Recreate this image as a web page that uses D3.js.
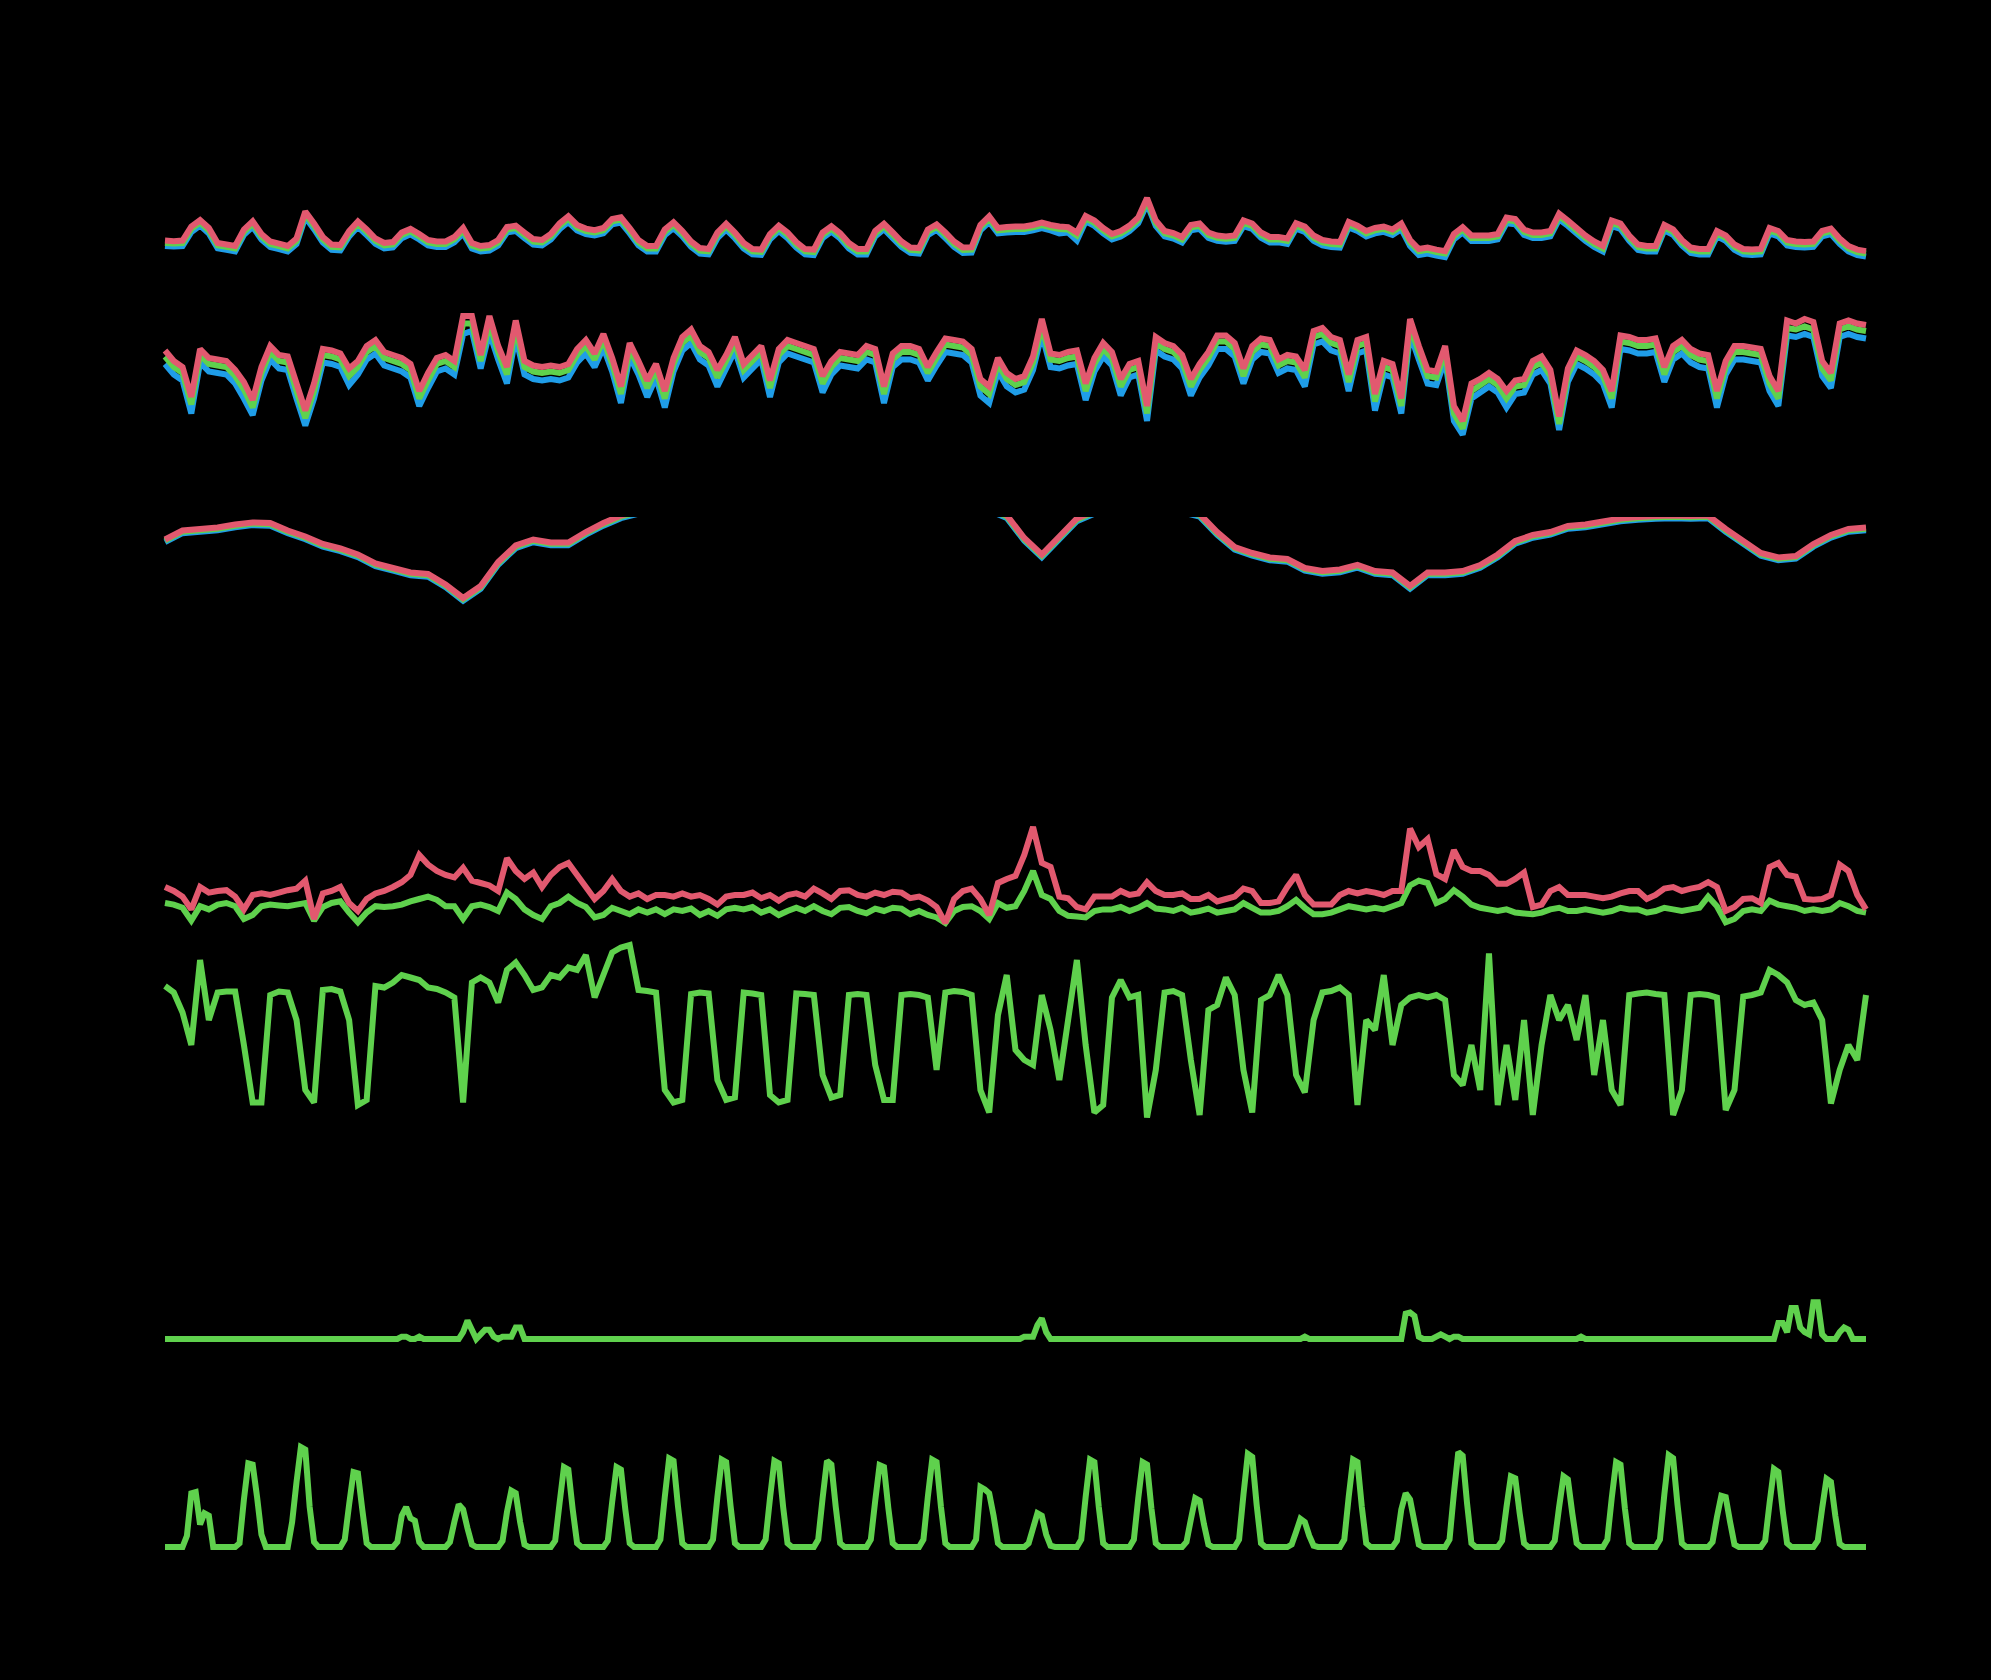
<!DOCTYPE html>
<html>
<head>
<meta charset="utf-8">
<script src="https://cdn.jsdelivr.net/npm/d3@7"></script>
<style>
  html, body { margin: 0; padding: 0; background: #000; }
  svg { display: block; }
</style>
</head>
<body>
<div id="chart"></div>
<script>
// Weather station record, about 32 days.
// 4-hourly series: 6 values per day (one line per day), last line = day 32.
const tempRed = [
  9.8, 9.6, 9.8, 14.5, 16.6, 14.0,
  9.0, 8.5, 8.0, 13.5, 16.2, 12.0,
  9.5, 8.8, 8.0, 10.5, 19.5, 15.5,
  11.0, 8.5, 8.3, 13.0, 16.2, 13.5,
  10.5, 9.0, 9.3, 12.5, 13.7, 12.0,
  10.0, 9.5, 9.5, 11.0, 14.0, 9.0,
  8.0, 8.3, 10.0, 14.3, 14.8, 12.5,
  10.3, 10.0, 12.0, 15.5, 17.9, 15.0,
  13.8, 13.3, 14.0, 17.0, 17.6, 14.0,
  10.0, 8.0, 8.0, 13.5, 15.9, 13.0,
  9.5, 7.3, 7.0, 12.5, 15.4, 12.5,
  9.0, 7.0, 6.8, 12.0, 14.8, 12.5,
  9.3, 7.0, 6.8, 12.5, 14.6, 12.3,
  9.0, 7.0, 7.0, 13.0, 15.4, 12.5,
  9.5, 7.5, 7.3, 13.5, 15.2, 12.5,
  9.5, 7.5, 7.6, 15.0, 17.9, 14.0,
  14.3, 14.5, 14.5, 15.0, 15.8, 15.0,
  14.5, 14.3, 12.5, 18.0, 16.5, 14.0,
  12.0, 13.0, 14.8, 17.5, 24.0, 16.5,
  13.0, 12.3, 11.0, 15.0, 15.5, 12.5,
  11.5, 11.2, 11.5, 16.5, 15.5, 12.5,
  11.0, 11.0, 10.5, 15.6, 14.5, 11.5,
  10.0, 9.5, 9.3, 16.0, 14.8, 13.0,
  14.0, 14.5, 13.5, 15.5, 10.0, 7.0,
  7.5, 6.8, 6.3, 12.0, 14.3, 11.5,
  11.5, 11.5, 12.0, 17.5, 17.0, 13.5,
  12.5, 12.5, 13.0, 18.8, 16.5, 14.0,
  11.5, 9.5, 8.0, 16.5, 15.5, 11.5,
  8.5, 8.0, 8.0, 15.0, 13.5, 10.0,
  7.5, 7.0, 7.0, 13.0, 11.5, 8.5,
  7.0, 6.8, 7.0, 14.0, 13.0, 10.0,
  9.5, 9.3, 9.5, 13.0, 13.8, 10.5,
  8.0, 6.8, 6.3
];
const tempGreen = [
  9.0, 8.8, 9.0, 13.7, 15.8, 13.2,
  8.2, 7.7, 7.2, 12.7, 15.4, 11.2,
  8.7, 8.0, 7.2, 9.7, 18.7, 14.7,
  10.2, 7.7, 7.5, 12.2, 15.4, 12.7,
  9.7, 8.2, 8.5, 11.7, 12.9, 11.2,
  9.2, 8.7, 8.7, 10.2, 13.2, 8.2,
  7.2, 7.5, 9.2, 13.5, 14.0, 11.7,
  9.5, 9.2, 11.2, 14.7, 17.1, 14.2,
  13.0, 12.5, 13.2, 16.2, 16.8, 13.2,
  9.2, 7.2, 7.2, 12.7, 15.1, 12.2,
  8.7, 6.5, 6.2, 11.7, 14.6, 11.7,
  8.2, 6.2, 6.0, 11.2, 14.0, 11.7,
  8.5, 6.2, 6.0, 11.7, 13.8, 11.5,
  8.2, 6.2, 6.2, 12.2, 14.6, 11.7,
  8.7, 6.7, 6.5, 12.7, 14.4, 11.7,
  8.7, 6.7, 6.8, 14.2, 17.1, 13.2,
  13.5, 13.7, 13.7, 14.2, 15.0, 14.2,
  13.7, 13.5, 11.5, 17.2, 15.7, 13.2,
  11.2, 12.2, 14.0, 16.7, 23.0, 15.7,
  12.2, 11.5, 10.2, 14.2, 14.7, 11.7,
  10.7, 10.4, 10.7, 15.7, 14.7, 11.7,
  10.2, 10.2, 9.7, 14.8, 13.7, 10.7,
  9.2, 8.7, 8.5, 15.2, 14.0, 12.2,
  13.2, 13.7, 12.7, 14.7, 9.2, 6.2,
  6.7, 6.0, 5.5, 11.2, 13.5, 10.7,
  10.7, 10.7, 11.2, 16.7, 16.2, 12.7,
  11.7, 11.7, 12.2, 18.0, 15.7, 13.2,
  10.7, 8.7, 7.2, 15.7, 14.7, 10.7,
  7.7, 7.2, 7.2, 14.2, 12.7, 9.2,
  6.7, 6.2, 6.2, 12.2, 10.7, 7.7,
  6.2, 6.0, 6.2, 13.2, 12.2, 9.2,
  8.7, 8.5, 8.7, 12.2, 13.0, 9.7,
  7.2, 6.0, 5.5
];
const tempBlue = [
  8.0, 7.8, 8.0, 12.6, 14.8, 12.2,
  7.2, 6.7, 6.2, 11.7, 14.4, 10.2,
  7.7, 7.0, 6.2, 8.7, 17.6, 13.6,
  9.2, 6.7, 6.5, 11.2, 14.4, 11.6,
  8.7, 7.2, 7.5, 10.6, 11.9, 10.2,
  8.2, 7.7, 7.7, 9.2, 12.2, 7.2,
  6.2, 6.5, 8.2, 12.5, 13.0, 10.6,
  8.5, 8.2, 10.2, 13.6, 16.0, 13.2,
  12.0, 11.5, 12.2, 15.2, 15.8, 12.2,
  8.2, 6.2, 6.2, 11.6, 14.0, 11.2,
  7.7, 5.5, 5.2, 10.6, 13.5, 10.6,
  7.2, 5.2, 5.0, 10.2, 13.0, 10.6,
  7.5, 5.2, 5.0, 10.6, 12.8, 10.5,
  7.2, 5.2, 5.2, 11.2, 13.6, 10.6,
  7.7, 5.7, 5.5, 11.6, 13.4, 10.6,
  7.7, 5.7, 5.8, 13.2, 16.0, 12.2,
  12.5, 12.7, 12.7, 13.2, 14.0, 13.2,
  12.2, 12.5, 9.8, 16.2, 14.7, 12.2,
  10.2, 11.2, 13.0, 15.6, 22.0, 14.7,
  11.2, 10.5, 9.2, 13.2, 13.7, 10.7,
  9.7, 9.4, 9.7, 14.6, 13.7, 10.7,
  9.2, 9.2, 8.7, 13.8, 12.7, 9.7,
  8.2, 7.7, 7.5, 14.2, 13.0, 11.2,
  12.2, 12.7, 11.7, 13.6, 8.0, 5.0,
  5.5, 4.8, 4.3, 10.2, 12.5, 9.7,
  9.7, 9.7, 10.2, 15.6, 15.2, 11.7,
  10.7, 10.7, 11.2, 16.9, 14.7, 12.2,
  9.7, 7.7, 6.2, 14.6, 13.7, 9.7,
  6.7, 6.2, 6.2, 13.2, 11.7, 8.2,
  5.7, 5.2, 5.2, 11.2, 9.7, 6.7,
  5.2, 5.0, 5.2, 12.2, 11.2, 8.2,
  7.7, 7.5, 7.7, 11.2, 12.0, 8.7,
  6.2, 5.0, 4.5
];

const humRed = [
  77, 70, 66, 46, 78, 72,
  71, 70, 64, 56, 44, 66,
  80, 74, 73, 55, 37, 55,
  78, 77, 75, 65, 70, 80,
  84, 76, 74, 72, 68, 50,
  62, 72, 74, 70, 100, 100,
  74, 100, 80, 66, 97, 70,
  67, 66, 67, 66, 68, 78,
  84, 75, 88, 72, 53, 82,
  70, 57, 68, 50, 72, 86,
  91, 80, 76, 64, 74, 86,
  68, 74, 80, 57, 78, 84,
  82, 80, 78, 60, 70, 76,
  75, 74, 80, 78, 53, 75,
  80, 80, 78, 66, 76, 85,
  84, 83, 78, 58, 53, 72,
  62, 58, 60, 73, 98, 75,
  74, 76, 77, 55, 72, 82,
  76, 58, 68, 70, 40, 86,
  82, 80, 74, 58, 68, 76,
  87, 87, 82, 65, 80, 85,
  84, 71, 74, 73, 64, 90,
  92, 86, 84, 61, 84, 86,
  48, 70, 68, 45, 98, 80,
  64, 63, 80, 40, 30, 55,
  58, 62, 58, 50, 57, 58,
  70, 73, 64, 33, 65, 77,
  74, 70, 64, 50, 87, 86,
  84, 84, 85, 66, 80, 84,
  78, 75, 74, 50, 70, 80,
  80, 79, 78, 60, 50, 97,
  95, 98, 96, 70, 62, 95,
  97, 95, 94
];
const humGreen = [
  73, 66, 62, 41, 74, 68,
  67, 66, 60, 51, 39, 62,
  76, 70, 69, 50, 32, 50,
  74, 73, 71, 60, 66, 76,
  80, 72, 70, 68, 64, 45,
  57, 68, 70, 66, 95, 95,
  70, 95, 76, 61, 92, 66,
  63, 62, 63, 62, 64, 74,
  80, 71, 84, 68, 48, 78,
  66, 52, 64, 45, 68, 82,
  87, 76, 72, 59, 70, 82,
  64, 70, 76, 52, 74, 80,
  78, 76, 74, 55, 66, 72,
  71, 70, 76, 74, 48, 71,
  76, 76, 74, 62, 72, 81,
  80, 79, 74, 53, 48, 68,
  58, 54, 56, 69, 93, 71,
  70, 72, 73, 50, 68, 78,
  72, 53, 64, 66, 35, 82,
  78, 76, 70, 53, 64, 72,
  83, 83, 78, 60, 76, 81,
  80, 67, 70, 69, 59, 86,
  88, 82, 80, 56, 80, 82,
  43, 66, 64, 40, 93, 76,
  60, 59, 76, 35, 25, 50,
  54, 58, 54, 45, 53, 54,
  66, 69, 60, 28, 61, 73,
  70, 66, 60, 45, 83, 82,
  80, 80, 81, 61, 76, 80,
  74, 71, 70, 45, 66, 76,
  76, 75, 74, 55, 45, 92,
  91, 93, 91, 65, 57, 91,
  93, 91, 90
];
const humBlue = [
  68, 61, 57, 35, 69, 63,
  62, 61, 55, 45, 34, 57,
  71, 65, 64, 45, 27, 45,
  69, 68, 66, 54, 61, 71,
  75, 67, 65, 63, 59, 40,
  52, 63, 65, 61, 88, 90,
  65, 89, 71, 55, 86, 61,
  58, 57, 58, 57, 59, 69,
  75, 66, 79, 63, 42, 73,
  61, 46, 59, 39, 63, 77,
  82, 71, 67, 53, 65, 77,
  59, 65, 71, 46, 69, 75,
  73, 71, 69, 49, 61, 67,
  66, 65, 71, 69, 42, 66,
  71, 71, 69, 57, 67, 76,
  75, 74, 69, 47, 42, 63,
  53, 49, 51, 64, 88, 66,
  65, 67, 68, 44, 63, 73,
  67, 47, 59, 61, 30, 77,
  73, 71, 65, 47, 59, 67,
  78, 78, 73, 55, 71, 76,
  75, 62, 65, 64, 53, 81,
  83, 77, 75, 50, 75, 77,
  37, 61, 59, 35, 88, 71,
  55, 54, 71, 30, 21, 45,
  49, 53, 49, 39, 48, 49,
  61, 64, 55, 24, 56, 68,
  65, 61, 55, 39, 78, 77,
  75, 75, 76, 56, 71, 75,
  69, 66, 65, 39, 61, 71,
  71, 70, 69, 50, 40, 87,
  86, 88, 86, 60, 52, 86,
  88, 86, 85
];

// 8-hourly pressure (hPa): 3 values per day
const pressRed = [
  1012.5, 1015.5, 1016, 1016.5, 1017.5, 1018.2, 1018, 1015.5, 1013.5,
  1011, 1009.5, 1007.5, 1004.5, 1003, 1001.5, 1001, 997.5, 993,
  997, 1005, 1010.5, 1012.5, 1011.5, 1011.5, 1015, 1018, 1020.5,
  1022, 1023.5, 1025, 1026, 1027, 1027.5, 1028, 1028, 1027.5,
  1027, 1026.5, 1026, 1025.5, 1025, 1025, 1024.5, 1024, 1023.5,
  1023, 1023, 1023, 1020.6, 1013, 1007.5, 1013.5, 1019.5, 1022,
  1023, 1024, 1024, 1023.5, 1022.5, 1021, 1015, 1010, 1008,
  1006.5, 1006, 1003, 1002, 1002.5, 1004, 1002, 1001.5, 997,
  1001.5, 1001.5, 1002, 1004, 1007.5, 1012, 1014, 1015, 1017,
  1017.5, 1018.5, 1019.5, 1020, 1020.3, 1020.5, 1020.3, 1020.5, 1016,
  1012, 1008, 1006.5, 1007, 1011, 1014, 1016, 1016.5
];
const pressGreen = [
  1012.1, 1015.1, 1015.6, 1016.1, 1017.1, 1017.8, 1017.6, 1015.1, 1013.1,
  1010.6, 1009.1, 1007.1, 1004.1, 1002.6, 1001.1, 1000.6, 997.1, 992.6,
  996.6, 1004.6, 1010.1, 1012.1, 1011.1, 1011.1, 1014.6, 1017.6, 1020.1,
  1021.6, 1023.1, 1024.6, 1025.6, 1026.6, 1027.1, 1027.6, 1027.6, 1027.1,
  1026.6, 1026.1, 1025.6, 1025.1, 1024.6, 1024.6, 1024.1, 1023.6, 1023.1,
  1022.6, 1022.6, 1022.6, 1020.2, 1012.6, 1007.1, 1013.1, 1019.1, 1021.6,
  1022.6, 1023.6, 1023.6, 1023.1, 1022.1, 1020.6, 1014.6, 1009.6, 1007.6,
  1006.1, 1005.6, 1002.6, 1001.6, 1002.1, 1003.6, 1001.6, 1001.1, 996.6,
  1001.1, 1001.1, 1001.6, 1003.6, 1007.1, 1011.6, 1013.6, 1014.6, 1016.6,
  1017.1, 1018.1, 1019.1, 1019.6, 1019.9, 1020.1, 1019.9, 1020.1, 1015.6,
  1011.6, 1007.6, 1006.1, 1006.6, 1010.6, 1013.6, 1015.6, 1016.1
];
const pressBlue = [
  1011.6, 1014.6, 1015.1, 1015.6, 1016.6, 1017.3, 1017.1, 1014.6, 1012.6,
  1010.1, 1008.6, 1006.6, 1003.6, 1002.1, 1000.6, 1000.1, 996.6, 992.1,
  996.1, 1004.1, 1009.6, 1011.6, 1010.6, 1010.6, 1014.1, 1017.1, 1019.6,
  1021.1, 1022.6, 1024.1, 1025.1, 1026.1, 1026.6, 1027.1, 1027.1, 1026.6,
  1026.1, 1025.6, 1025.1, 1024.6, 1024.1, 1024.1, 1023.6, 1023.1, 1022.6,
  1022.1, 1022.1, 1022.1, 1019.7, 1012.1, 1006.6, 1012.6, 1018.6, 1021.1,
  1022.1, 1023.1, 1023.1, 1022.6, 1021.6, 1020.1, 1014.1, 1009.1, 1007.1,
  1005.6, 1005.1, 1002.1, 1001.1, 1001.6, 1003.1, 1001.1, 1000.6, 996.1,
  1000.6, 1000.6, 1001.1, 1003.1, 1006.6, 1011.1, 1013.1, 1014.1, 1016.1,
  1016.6, 1017.6, 1018.6, 1019.1, 1019.4, 1019.6, 1019.4, 1019.6, 1015.1,
  1011.1, 1007.1, 1005.6, 1006.1, 1010.1, 1013.1, 1015.1, 1015.6
];

// wind gust / mean speed (m/s), 4-hourly
const gustSpeed = [
  5.0, 4.5, 3.8, 2.2, 5.0, 4.3,
  4.5, 4.6, 3.8, 2.2, 4.0, 4.2,
  4.0, 4.3, 4.6, 4.8, 5.8, 1.0,
  4.2, 4.5, 5.0, 3.0, 2.0, 3.5,
  4.2, 4.5, 5.0, 5.6, 6.5, 9.0,
  7.8, 7.0, 6.5, 6.2, 7.4, 5.8,
  5.5, 5.2, 4.5, 8.6, 7.0, 6.0,
  6.8, 5.0, 6.5, 7.5, 8.0, 6.5,
  5.0, 3.5, 4.5, 6.0, 4.5, 3.8,
  4.2, 3.5, 4.0, 4.0, 3.8, 4.2,
  3.8, 4.0, 3.5, 2.8, 3.8, 4.0,
  4.0, 4.3, 3.6, 4.0, 3.3, 4.0,
  4.2, 3.8, 4.8, 4.2, 3.5, 4.5,
  4.6, 4.0, 3.8, 4.3, 4.0, 4.4,
  4.3, 3.6, 3.8, 3.3, 2.5, 0.5,
  3.5, 4.5, 4.8, 3.5, 1.5, 5.5,
  6.0, 6.4, 9.0, 12.5, 8.0, 7.5,
  3.8, 3.6, 2.5, 2.2, 3.8, 3.8,
  3.8, 4.5, 4.0, 4.2, 5.6, 4.5,
  4.0, 4.0, 4.2, 3.5, 3.5, 4.0,
  3.2, 3.5, 3.8, 4.8, 4.5, 3.0,
  3.0, 3.2, 5.0, 6.5, 4.0, 2.8,
  2.8, 2.8, 4.0, 4.5, 4.2, 4.5,
  4.3, 4.0, 4.5, 4.5, 12.3, 10.0,
  11.0, 6.6, 6.0, 9.6, 7.5, 7.0,
  7.0, 6.5, 5.4, 5.4, 6.0, 6.8,
  2.5, 2.8, 4.5, 5.0, 4.0, 4.0,
  4.0, 3.8, 3.6, 3.8, 4.2, 4.5,
  4.5, 3.5, 4.0, 4.8, 5.0, 4.5,
  4.8, 5.0, 5.6, 5.0, 2.0, 2.5,
  3.5, 3.6, 3.0, 7.5, 8.0, 6.5,
  6.3, 3.5, 3.4, 3.5, 4.0, 7.8,
  7.0, 4.0, 2.2
];
const meanSpeed = [
  3.0, 2.8, 2.4, 0.8, 2.6, 2.2,
  2.8, 3.0, 2.6, 1.0, 1.5, 2.6,
  2.8, 2.7, 2.6, 2.8, 3.0, 0.8,
  2.5, 3.0, 3.2, 1.8, 0.6, 1.8,
  2.6, 2.5, 2.6, 2.8, 3.2, 3.5,
  3.8, 3.4, 2.6, 2.6, 1.0, 2.6,
  2.8, 2.5, 2.0, 4.3, 3.5, 2.2,
  1.5, 1.0, 2.6, 3.0, 3.8, 3.0,
  2.5, 1.2, 1.5, 2.4, 2.0, 1.6,
  2.2, 1.8, 2.2, 1.6, 2.2, 2.0,
  2.3, 1.5, 2.0, 1.4, 2.2, 2.4,
  2.2, 2.5, 1.8, 2.2, 1.5, 2.0,
  2.4, 2.0, 2.6, 2.0, 1.6, 2.4,
  2.5, 2.0, 1.7, 2.3, 2.0, 2.4,
  2.3, 1.6, 2.0, 1.5, 1.2, 0.5,
  2.0, 2.5, 2.6, 2.0, 1.0, 3.0,
  2.4, 2.6, 4.5, 7.0, 4.0, 3.5,
  2.0, 1.4, 1.3, 1.2, 2.0, 2.2,
  2.2, 2.5, 2.0, 2.4, 3.0, 2.3,
  2.2, 2.0, 2.4, 1.8, 2.0, 2.3,
  1.8, 2.0, 2.2, 3.0, 2.4, 1.8,
  1.8, 2.0, 2.6, 3.4, 2.4, 1.6,
  1.6, 1.8, 2.2, 2.6, 2.4, 2.2,
  2.4, 2.2, 2.6, 3.0, 5.2, 5.8,
  5.5, 3.0, 3.5, 4.6, 3.8, 2.8,
  2.4, 2.2, 2.0, 2.2, 1.8, 1.7,
  1.6, 1.8, 2.2, 2.4, 2.0, 2.0,
  2.2, 2.0, 1.8, 2.0, 2.4, 2.2,
  2.2, 1.8, 2.0, 2.4, 2.2, 2.0,
  2.2, 2.4, 3.8, 2.6, 0.6, 1.0,
  2.0, 2.2, 2.0, 3.3, 2.8, 2.6,
  2.4, 2.0, 2.2, 2.0, 2.2, 3.0,
  2.6, 2.0, 1.8
];

// wind direction (degrees), 4-hourly
const windDir = [
  268, 255, 215, 150, 320, 200,
  255, 257, 257, 150, 35, 35,
  250, 257, 255, 200, 60, 35,
  260, 262, 257, 200, 30, 40,
  268, 265, 275, 290, 285, 280,
  265, 262, 255, 245, 35, 275,
  285, 275, 235, 300, 315, 290,
  260, 265, 290, 285, 305, 300,
  330, 245, 290, 335, 345, 350,
  260, 258, 255, 60, 35, 40,
  252, 255, 253, 80, 40, 45,
  255, 253, 250, 50, 35, 40,
  253, 252, 250, 90, 45, 50,
  250, 252, 250, 110, 40, 40,
  250, 252, 250, 245, 100, 255,
  258, 256, 250, 60, 15, 210,
  290, 140, 120, 110, 250, 180,
  80, 200, 320, 150, 15, 30,
  245, 280, 245, 250, 5, 100,
  255, 258, 250, 120, 10, 220,
  230, 285, 250, 100, 15, 240,
  250, 290, 250, 90, 55, 200,
  255, 258, 265, 250, 30, 200,
  180, 290, 150, 230, 245, 250,
  245, 250, 240, 90, 70, 150,
  60, 333, 30, 150, 40, 200,
  10, 150, 250, 200, 230, 160,
  250, 90, 200, 60, 30, 250,
  253, 255, 252, 250, 10, 60,
  250, 252, 250, 245, 20, 60,
  247, 250, 255, 300, 290, 275,
  240, 230, 235, 200, 33, 100,
  150, 120, 250
];

// 2-hourly rain (mm) and solar radiation (W/m2): 12 values per day
const rain = [
  0,0,0,0,0,0,0,0,0,0,0,0,
  0,0,0,0,0,0,0,0,0,0,0,0,
  0,0,0,0,0,0,0,0,0,0,0,0,
  0,0,0,0,0,0,0,0,0,0,0,0,
  0,0,0,0,0,0,0.2,0.2,0,0,0.2,0,
  0,0,0,0,0,0,0,0,0.6,1.6,0.8,0,
  0.4,0.8,0.8,0.2,0,0.2,0.2,0.2,1.0,1.0,0,0,
  0,0,0,0,0,0,0,0,0,0,0,0,
  0,0,0,0,0,0,0,0,0,0,0,0,
  0,0,0,0,0,0,0,0,0,0,0,0,
  0,0,0,0,0,0,0,0,0,0,0,0,
  0,0,0,0,0,0,0,0,0,0,0,0,
  0,0,0,0,0,0,0,0,0,0,0,0,
  0,0,0,0,0,0,0,0,0,0,0,0,
  0,0,0,0,0,0,0,0,0,0,0,0,
  0,0,0,0,0,0,0,0,0,0,0,0,
  0,0,0,0,0.2,0.2,0.2,1.2,1.8,0.6,0,0,
  0,0,0,0,0,0,0,0,0,0,0,0,
  0,0,0,0,0,0,0,0,0,0,0,0,
  0,0,0,0,0,0,0,0,0,0,0,0,
  0,0,0,0,0,0,0,0,0,0,0,0,
  0,0,0,0,0,0,0,0,0.2,0,0,0,
  0,0,0,0,0,0,0,0,0,0,0,0,
  0,0,0,0,0,0,0,2.2,2.3,2.0,0.2,0,
  0,0,0.2,0.4,0.2,0,0.2,0.2,0,0,0,0,
  0,0,0,0,0,0,0,0,0,0,0,0,
  0,0,0,0,0,0,0,0,0,0,0,0.2,
  0,0,0,0,0,0,0,0,0,0,0,0,
  0,0,0,0,0,0,0,0,0,0,0,0,
  0,0,0,0,0,0,0,0,0,0,0,0,
  0,0,0,0,0,0,0,0,1.4,1.4,0.6,2.7,
  2.7,1.0,0.6,0.4,3.2,3.2,0.4,0,0,0,0.6,1.0,
  0.8,0,0,0,0
];
const solar = [
  0,0,0,0,0,90,430,440,180,270,250,0,
  0,0,0,0,0,30,380,670,660,400,100,0,
  0,0,0,0,0,200,520,800,780,320,40,0,
  0,0,0,0,0,60,340,600,590,300,30,0,
  0,0,0,0,0,40,250,320,230,210,40,0,
  0,0,0,0,0,40,200,340,300,150,20,0,
  0,0,0,0,0,50,280,450,430,200,20,0,
  0,0,0,0,0,50,350,640,620,300,30,0,
  0,0,0,0,0,50,360,640,620,300,30,0,
  0,0,0,0,0,60,400,710,690,330,30,0,
  0,0,0,0,0,60,400,700,680,330,30,0,
  0,0,0,0,0,60,390,690,670,320,30,0,
  0,0,0,0,0,60,390,690,660,320,30,0,
  0,0,0,0,0,60,370,655,640,310,30,0,
  0,0,0,0,0,60,400,700,680,320,30,0,
  0,0,0,0,0,60,480,460,430,250,30,0,
  0,0,0,0,0,30,150,270,250,100,10,0,
  0,0,0,0,0,60,400,700,680,320,30,0,
  0,0,0,0,0,60,390,680,660,310,30,0,
  0,0,0,0,0,40,220,390,370,180,20,0,
  0,0,0,0,0,60,420,745,720,340,30,0,
  0,0,0,0,0,20,120,225,200,90,10,0,
  0,0,0,0,0,60,400,700,680,320,30,0,
  0,0,0,0,0,50,300,430,380,200,20,0,
  0,0,0,0,0,60,430,760,730,350,30,0,
  0,0,0,0,0,50,320,565,550,270,30,0,
  0,0,0,0,0,50,320,565,540,270,30,0,
  0,0,0,0,0,60,390,680,660,310,30,0,
  0,0,0,0,0,60,420,735,710,340,30,0,
  0,0,0,0,0,40,240,410,400,200,20,0,
  0,0,0,0,0,50,350,625,600,290,30,0,
  0,0,0,0,0,50,310,545,520,250,25,0,
  0,0,0,0,0
];

const RED = '#e2596f';
const GREEN = '#5fd14d';
const BLUE = '#1f9de8';

const width = 1991;
const height = 1680;
const totalHours = 776;

// panel layout: value domain -> pixel band, optional clip band
const panels = [
  { series: [tempBlue, tempGreen, tempRed], colors: [BLUE, GREEN, RED], step: 4,
    domain: [0, 30], range: [270, 180], clip: [150, 300] },
  { series: [humBlue, humGreen, humRed], colors: [BLUE, GREEN, RED], step: 4,
    domain: [20, 100], range: [436, 316], clip: [300, 460] },
  { series: [pressBlue, pressGreen, pressRed], colors: [BLUE, GREEN, RED], step: 8,
    domain: [990, 1020], range: [607, 517], clip: [517, 640] },
  { series: [meanSpeed, gustSpeed], colors: [GREEN, RED], step: 4,
    domain: [0, 12.5], range: [927, 827], clip: [800, 927] },
  { series: [windDir], colors: [GREEN], step: 4,
    domain: [0, 360], range: [1120, 940], clip: [925, 1135] },
  { series: [rain], colors: [GREEN], step: 2,
    domain: [0, 4], range: [1339, 1293], clip: [1280, 1350] },
  { series: [solar], colors: [GREEN], step: 2,
    domain: [0, 1000], range: [1547, 1422], clip: [1400, 1560] }
];

const svg = d3.select('#chart')
  .append('svg')
  .attr('width', width)
  .attr('height', height)
  .style('background', '#000');

const x = d3.scaleLinear()
  .domain([0, totalHours])
  .range([165, 1866]);

const defs = svg.append('defs');

panels.forEach((p, pi) => {
  const y = d3.scaleLinear().domain(p.domain).range(p.range);

  defs.append('clipPath')
    .attr('id', `clip-${pi}`)
    .append('rect')
    .attr('x', 150)
    .attr('y', p.clip[0])
    .attr('width', 1730)
    .attr('height', p.clip[1] - p.clip[0]);

  const g = svg.append('g')
    .attr('class', `panel panel-${pi}`)
    .attr('clip-path', `url(#clip-${pi})`);

  const line = d3.line()
    .x((d, i) => x(i * p.step))
    .y(d => y(d));

  p.series.forEach((values, si) => {
    g.append('path')
      .datum(values)
      .attr('fill', 'none')
      .attr('stroke', p.colors[si])
      .attr('stroke-width', 6)
      .attr('stroke-linejoin', 'miter')
      .attr('stroke-miterlimit', 2)
      .attr('d', line);
  });
});
</script>
</body>
</html>
